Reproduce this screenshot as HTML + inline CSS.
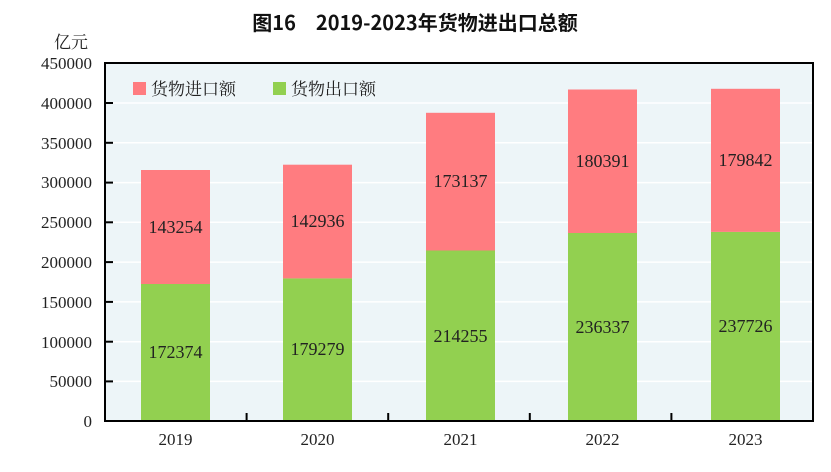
<!DOCTYPE html><html><head><meta charset="utf-8"><style>body{margin:0;background:#fff}</style></head><body>
<svg width="831" height="467" xmlns="http://www.w3.org/2000/svg">
<text x="415" y="30" text-anchor="middle" font-family="'Noto Sans CJK SC',sans-serif" font-size="20" font-weight="bold" fill="#111">图16　2019-2023年货物进出口总额</text>
<text x="88" y="48" text-anchor="end" font-family="'Noto Serif CJK SC',serif" font-size="17" fill="#222">亿元</text>
<rect x="105" y="63" width="708" height="358" fill="#edf5f8"/>
<g stroke="#fff" stroke-width="1.5">
<line x1="105" x2="813" y1="103" y2="103"/><line x1="105" x2="813" y1="142.8" y2="142.8"/><line x1="105" x2="813" y1="182.6" y2="182.6"/><line x1="105" x2="813" y1="222.3" y2="222.3"/><line x1="105" x2="813" y1="262.1" y2="262.1"/><line x1="105" x2="813" y1="301.9" y2="301.9"/><line x1="105" x2="813" y1="341.7" y2="341.7"/><line x1="105" x2="813" y1="381.4" y2="381.4"/>
</g>
<g font-family="'Liberation Serif',serif" font-size="17" fill="#222" text-anchor="end">
<text x="92" y="69">450000</text><text x="92" y="109">400000</text><text x="92" y="149">350000</text><text x="92" y="188">300000</text><text x="92" y="228">250000</text><text x="92" y="268">200000</text><text x="92" y="308">150000</text><text x="92" y="348">100000</text><text x="92" y="387">50000</text><text x="92" y="427">0</text>
</g>
<g>
<rect x="141" y="283.9" width="69" height="137.1" fill="#92d050"/><rect x="141" y="170" width="69" height="114" fill="#ff7c80"/>
<rect x="283" y="278.4" width="69" height="142.6" fill="#92d050"/><rect x="283" y="164.7" width="69" height="113.7" fill="#ff7c80"/>
<rect x="426" y="250.5" width="69" height="170.5" fill="#92d050"/><rect x="426" y="112.8" width="69" height="137.7" fill="#ff7c80"/>
<rect x="568" y="233" width="69" height="188" fill="#92d050"/><rect x="568" y="89.5" width="69" height="143.5" fill="#ff7c80"/>
<rect x="711" y="231.9" width="69" height="189.1" fill="#92d050"/><rect x="711" y="88.8" width="69" height="143.1" fill="#ff7c80"/>
</g>
<g font-family="'Liberation Serif',serif" font-size="18" fill="#222" text-anchor="middle">
<text x="175.5" y="358">172374</text><text x="175.5" y="233">143254</text>
<text x="317.5" y="355">179279</text><text x="317.5" y="227">142936</text>
<text x="460.5" y="342">214255</text><text x="460.5" y="187">173137</text>
<text x="602.5" y="333">236337</text><text x="602.5" y="167">180391</text>
<text x="745.5" y="332">237726</text><text x="745.5" y="166">179842</text>
</g>
<g font-family="'Liberation Serif',serif" font-size="17" fill="#222" text-anchor="middle">
<text x="175.5" y="445">2019</text><text x="317.5" y="445">2020</text><text x="460.5" y="445">2021</text><text x="602.5" y="445">2022</text><text x="745.5" y="445">2023</text>
</g>
<rect x="105" y="63" width="708" height="358" fill="none" stroke="#000" stroke-width="2"/>
<g stroke="#000" stroke-width="2">
<line x1="105" x2="113" y1="103" y2="103"/><line x1="105" x2="113" y1="142.8" y2="142.8"/><line x1="105" x2="113" y1="182.6" y2="182.6"/><line x1="105" x2="113" y1="222.3" y2="222.3"/><line x1="105" x2="113" y1="262.1" y2="262.1"/><line x1="105" x2="113" y1="301.9" y2="301.9"/><line x1="105" x2="113" y1="341.7" y2="341.7"/><line x1="105" x2="113" y1="381.4" y2="381.4"/>
<line x1="246.6" x2="246.6" y1="421" y2="413"/><line x1="388.2" x2="388.2" y1="421" y2="413"/><line x1="529.8" x2="529.8" y1="421" y2="413"/><line x1="671.4" x2="671.4" y1="421" y2="413"/>
</g>
<rect x="133" y="82" width="13" height="13" fill="#ff7c80"/>
<text x="151" y="95" font-family="'Noto Serif CJK SC',serif" font-size="17" fill="#222">货物进口额</text>
<rect x="273" y="82" width="13" height="13" fill="#92d050"/>
<text x="291" y="95" font-family="'Noto Serif CJK SC',serif" font-size="17" fill="#222">货物出口额</text>
</svg>
</body></html>
